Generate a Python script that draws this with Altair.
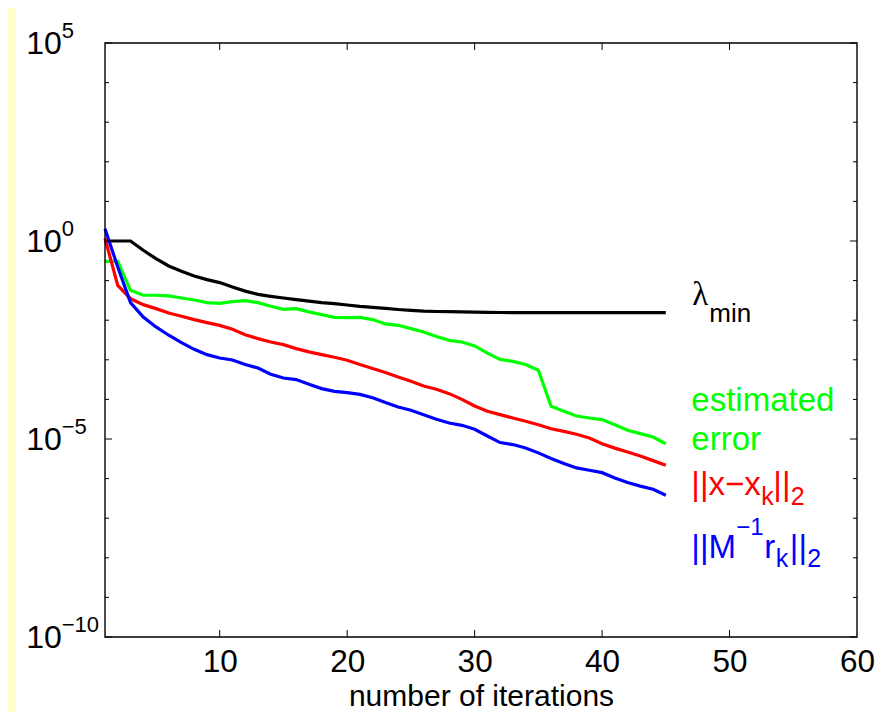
import altair as alt
import pandas as pd

# ---------------- data (log10 of the plotted values) ----
iterations = list(range(1, 46))
series_names = ["lambda_min", "estimated error", "||x-x_k||_2", "||M^-1 r_k||_2"]
series_colors = ["#000000", "#00FF00", "#FF0000", "#0000FF"]

lam_min_exp = [0.0, 0.0, 0.0, -0.235, -0.445, -0.63, -0.765, -0.883, -0.975, -1.05,
               -1.16, -1.265, -1.347, -1.397, -1.44, -1.48, -1.52, -1.556, -1.58, -1.616,
               -1.65, -1.675, -1.70, -1.73, -1.75, -1.77, -1.78, -1.785, -1.79, -1.795,
               -1.80, -1.805, -1.81, -1.81, -1.81, -1.81, -1.81, -1.81, -1.81, -1.81,
               -1.81, -1.81, -1.81, -1.81, -1.81]
est_err_exp = [-0.513, -0.513, -1.245, -1.37, -1.37, -1.387, -1.44, -1.49, -1.556, -1.573,
               -1.53, -1.506, -1.556, -1.649, -1.725, -1.708, -1.79, -1.86, -1.93, -1.935,
               -1.93, -1.985, -2.095, -2.129, -2.213, -2.297, -2.41, -2.51, -2.55, -2.65,
               -2.83, -2.99, -3.04, -3.12, -3.265, -4.174, -4.30, -4.42, -4.47, -4.51,
               -4.64, -4.78, -4.865, -4.95, -5.12]
err_exp = [0.07, -1.12, -1.456, -1.607, -1.708, -1.818, -1.90, -1.985, -2.06, -2.13,
           -2.23, -2.365, -2.465, -2.55, -2.617, -2.718, -2.80, -2.87, -2.936, -3.01,
           -3.12, -3.22, -3.32, -3.434, -3.54, -3.66, -3.745, -3.855, -3.998, -4.166,
           -4.30, -4.385, -4.47, -4.553, -4.64, -4.74, -4.806, -4.88, -4.975, -5.12,
           -5.23, -5.33, -5.43, -5.546, -5.665]
res_exp = [0.31, -0.656, -1.556, -1.92, -2.17, -2.38, -2.566, -2.735, -2.87, -2.954,
           -3.005, -3.12, -3.207, -3.366, -3.46, -3.50, -3.62, -3.728, -3.796, -3.83,
           -3.872, -3.956, -4.08, -4.19, -4.275, -4.385, -4.50, -4.596, -4.655, -4.755,
           -4.924, -5.09, -5.14, -5.225, -5.35, -5.49, -5.62, -5.73, -5.79, -5.85,
           -5.985, -6.10, -6.19, -6.27, -6.42]

x_tick_values = [10, 20, 30, 40, 50, 60]
y_label_values = [1e-10, 1e-5, 1.0, 1e5]
y_label_exponents = ["\u221210", "\u22125", "0", "5"]
y_decades = [10.0 ** e for e in range(-10, 6)]

# annotation texts: (segment, dx, dy, size, font, color), anchored at (k, log10 v)
label_k = 47.0
annotations = [
    (-1.624, [("\u03bb", 1, 0, 33, "Liberation Serif", "#000000"),
              ("min", 18, 17, 26, "Liberation Sans", "#000000")]),
    (-4.29, [("estimated", 0, 0, 33, "Liberation Sans", "#00FF00")]),
    (-5.285, [("error", 0, 0, 33, "Liberation Sans", "#00FF00")]),
    (-6.42, [("||x\u2212x", 0, 0, 33, "Liberation Sans", "#FF0000"),
             ("k", 70, 10, 25, "Liberation Sans", "#FF0000"),
             ("||", 82, 0, 33, "Liberation Sans", "#FF0000"),
             ("2", 99.5, 10, 25, "Liberation Sans", "#FF0000")]),
    (-8.01, [("||M", 0, 0, 33, "Liberation Sans", "#0000FF"),
             ("\u22121", 45, -23, 24, "Liberation Sans", "#0000FF"),
             ("r", 73, 0, 33, "Liberation Sans", "#0000FF"),
             ("k", 84.5, 9, 25, "Liberation Sans", "#0000FF"),
             ("||", 98.5, 0, 33, "Liberation Sans", "#0000FF"),
             ("2", 116, 9, 25, "Liberation Sans", "#0000FF")]),
]

# ---------------- build ----------------
rows = []
for name, exps in zip(series_names, [lam_min_exp, est_err_exp, err_exp, res_exp]):
    for k, e in zip(iterations, exps):
        rows.append({"k": k, "v": 10.0 ** e, "series": name})
df = pd.DataFrame(rows)

W, H = 752, 594
FONT = "Liberation Sans"
xscale = alt.Scale(domain=[1, 60], nice=False, zero=False)
yscale = alt.Scale(type="log", domain=[1e-10, 1e5], nice=False)
one = pd.DataFrame({"a": [0]})

xaxis = alt.Axis(values=x_tick_values, format="d", grid=False, domain=False,
                 ticks=False, tickSize=0, labelFont=FONT, labelFontSize=31.5,
                 labelColor="black", labelBaseline="alphabetic",
                 labelPadding=34, labelFlush=False, labelOverlap=False,
                 titleFont=FONT, titleFontSize=30, titleFontWeight="normal",
                 titleColor="black", titleBaseline="alphabetic", titleY=68,
                 zindex=2)
yaxis = alt.Axis(values=y_label_values, labelExpr="'10'", grid=False,
                 domain=False, ticks=False, tickSize=0, labelFont=FONT,
                 labelFontSize=32, labelColor="black", labelAlign="right",
                 labelBaseline="middle", labelPadding=43.6,
                 labelFlush=False, labelOverlap=False, zindex=2)


def X():
    return alt.X("k:Q", scale=xscale, axis=xaxis, title="number of iterations")


def Y():
    return alt.Y("v:Q", scale=yscale, axis=yaxis, title=None)


# white figure panel on the yellow page colour
panel = alt.Chart(one).mark_rect(color="white").encode(
    x=alt.value(-89), x2=alt.value(W + 28), y=alt.value(-40), y2=alt.value(H + 80)
)

lines = alt.Chart(df).mark_line(strokeWidth=3.2).encode(
    x=X(), y=Y(),
    color=alt.Color("series:N", scale=alt.Scale(domain=series_names, range=series_colors),
                    legend=None),
)

frame = alt.Chart(one).mark_rect(filled=False, stroke="black", strokeWidth=1.4).encode(
    x=alt.value(0), x2=alt.value(W), y=alt.value(0), y2=alt.value(H)
)

exp_df = pd.DataFrame({"v": y_label_values, "t": y_label_exponents, "k": [1] * 4})
exponents = alt.Chart(exp_df).mark_text(
    align="left", baseline="alphabetic", dx=-43.3, dy=-5, fontSize=22, font=FONT,
    color="black"
).encode(x=X(), y=Y(), text="t:N")

major_set = set(y_label_values)
ydf = pd.DataFrame({"v": y_decades, "major": [d in major_set for d in y_decades]})
ymaj = ydf[ydf.major]
ymin = ydf[~ydf.major]


def ytick(data, x0, x1):
    return alt.Chart(data).mark_rule(color="black", strokeWidth=1).encode(
        y=Y(), x=alt.value(x0), x2=alt.value(x1)
    )


xdf = pd.DataFrame({"k": x_tick_values[:-1]})


def xtick(y0, y1):
    return alt.Chart(xdf).mark_rule(color="black", strokeWidth=1).encode(
        x=X(), y=alt.value(y0), y2=alt.value(y1)
    )


ticks = [
    ytick(ymaj, 0, 7), ytick(ymin, 0, 4), ytick(ymaj, W, W - 7), ytick(ymin, W, W - 4),
    xtick(H, H - 7), xtick(0, 7),
]

texts = []
for base, segs in annotations:
    for seg, dx, dy, size, font, color in segs:
        d = pd.DataFrame({"k": [label_k], "v": [10.0 ** base], "t": [seg]})
        texts.append(
            alt.Chart(d).mark_text(align="left", baseline="alphabetic", dx=dx, dy=dy,
                                   fontSize=size, font=font, color=color).encode(
                x=X(), y=Y(), text="t:N",
            )
        )

chart = alt.layer(panel, lines, frame, exponents, *ticks, *texts).properties(
    width=W, height=H,
    padding={"left": 97, "top": 35, "right": 28, "bottom": 75},
    autosize=alt.AutoSizeParams(type="none"),
    background="#FFFFCC",
).configure_view(stroke=None)

chart.save("out.html", embed_options={"renderer": "svg", "actions": False})
